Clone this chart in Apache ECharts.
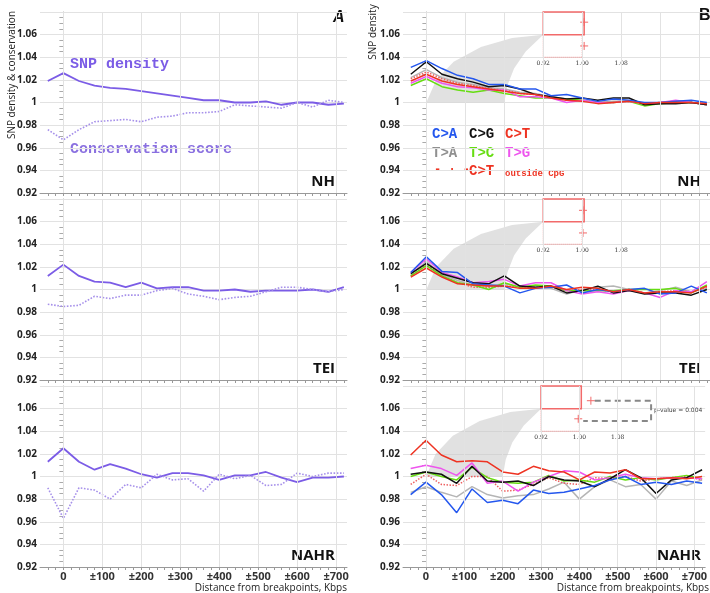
<!DOCTYPE html>
<html>
<head>
<meta charset="utf-8">
<script src="https://cdn.jsdelivr.net/npm/echarts@6/dist/echarts.min.js"></script>
<style>html,body{margin:0;padding:0;background:#fff}#chart{width:710px;height:593px}</style>
</head>
<body>
<div id="chart"></div>
<script>
// distance from breakpoints, Kbps
const dist = [-40, 0, 40, 80, 120, 160, 200, 240, 280, 320, 360, 400, 440, 480, 520, 560, 600, 640, 680, 720];
const xTicks = [0, 100, 200, 300, 400, 500, 600, 700];
const panels = ['NH', 'TEI', 'NAHR'];

// panel A: SNP density and conservation score
const snpNH = [1.019, 1.026, 1.019, 1.015, 1.013, 1.012, 1.010, 1.008, 1.006, 1.004, 1.002, 1.002, 1.000, 1.000, 1.001, 0.998, 1.000, 1.000, 0.998, 0.999];
const consNH = [0.976, 0.967, 0.976, 0.983, 0.984, 0.985, 0.983, 0.987, 0.988, 0.991, 0.991, 0.992, 0.998, 0.997, 0.996, 0.995, 1.000, 0.996, 1.002, 1.000];
const snpTEI = [1.012, 1.022, 1.012, 1.007, 1.006, 1.002, 1.006, 1.001, 1.002, 1.002, 0.999, 0.999, 1.000, 0.998, 0.999, 0.999, 0.999, 1.000, 0.998, 1.002];
const consTEI = [0.987, 0.985, 0.986, 0.994, 0.992, 0.995, 0.995, 0.999, 1.001, 0.996, 0.994, 0.991, 0.993, 0.994, 0.998, 1.002, 1.002, 1.000, 0.998, 1.000];
const snpNAHR = [1.013, 1.025, 1.013, 1.006, 1.011, 1.007, 1.002, 0.999, 1.003, 1.003, 1.001, 0.997, 1.001, 1.001, 1.004, 0.999, 0.995, 0.999, 0.999, 1.000];
const consNAHR = [0.990, 0.963, 0.990, 0.988, 0.980, 0.993, 0.990, 1.002, 0.997, 0.998, 0.987, 1.002, 0.998, 1.001, 0.992, 0.993, 1.003, 1.000, 1.003, 1.003];

// panel B: SNP density by mutation type
const mutTypes = ['C>A', 'C>G', 'C>T', 'T>A', 'T>C', 'T>G', 'C>T outside CpG'];
const mutColors = ['#2457ee', '#111111', '#ee3322', '#b5b5b5', '#66dd11', '#ee55ee', '#ee6060'];
const mutNH = [
  [1.031, 1.037, 1.030, 1.024, 1.021, 1.016, 1.016, 1.012, 1.012, 1.006, 1.007, 1.004, 1.001, 1.003, 1.002, 1.000, 1.000, 1.001, 1.002, 1.000],
  [1.025, 1.036, 1.025, 1.021, 1.018, 1.014, 1.015, 1.012, 1.007, 1.005, 1.003, 1.004, 1.002, 1.004, 1.004, 0.998, 0.999, 0.999, 1.000, 0.998],
  [1.019, 1.025, 1.019, 1.016, 1.014, 1.012, 1.010, 1.008, 1.007, 1.004, 1.002, 1.001, 0.999, 1.000, 1.001, 0.999, 1.000, 1.000, 1.000, 0.999],
  [1.022, 1.029, 1.022, 1.018, 1.016, 1.013, 1.012, 1.009, 1.008, 1.005, 1.003, 1.002, 1.000, 1.001, 1.001, 0.999, 1.000, 1.001, 1.000, 0.999],
  [1.015, 1.021, 1.014, 1.011, 1.009, 1.011, 1.008, 1.006, 1.004, 1.004, 1.003, 1.002, 1.000, 1.000, 1.001, 0.997, 0.999, 1.000, 1.000, 0.998],
  [1.017, 1.023, 1.017, 1.014, 1.013, 1.011, 1.011, 1.005, 1.005, 1.004, 1.000, 1.002, 1.000, 1.000, 1.001, 0.999, 1.000, 1.002, 1.000, 0.998],
  [1.021, 1.027, 1.021, 1.017, 1.015, 1.012, 1.011, 1.008, 1.007, 1.005, 1.002, 1.002, 1.000, 1.000, 1.001, 0.999, 1.000, 1.001, 1.000, 0.999]
];
const mutTEI = [
  [1.015, 1.029, 1.016, 1.015, 1.005, 1.004, 1.003, 0.997, 1.001, 1.002, 1.004, 0.997, 1.000, 0.998, 1.000, 1.001, 0.996, 0.997, 1.003, 0.997],
  [1.014, 1.023, 1.014, 1.010, 1.006, 1.005, 1.012, 1.003, 1.002, 1.003, 0.997, 0.999, 1.003, 0.997, 0.999, 0.996, 0.997, 0.997, 0.995, 1.000],
  [1.011, 1.019, 1.011, 1.005, 1.004, 1.003, 1.003, 1.001, 1.001, 1.003, 1.000, 1.002, 1.001, 0.998, 1.000, 0.997, 0.998, 0.998, 0.997, 1.003],
  [1.013, 1.025, 1.013, 1.008, 1.004, 1.003, 1.005, 1.002, 1.002, 1.001, 0.996, 1.000, 1.002, 1.003, 1.000, 0.997, 0.999, 1.002, 0.998, 1.001],
  [1.012, 1.021, 1.012, 1.006, 1.004, 1.000, 1.006, 1.002, 1.004, 1.003, 0.999, 0.999, 0.999, 0.999, 1.000, 1.000, 1.000, 1.001, 0.997, 1.004],
  [1.015, 1.027, 1.015, 1.011, 1.006, 1.007, 1.009, 1.003, 1.006, 1.006, 0.999, 0.996, 0.998, 0.996, 0.999, 0.997, 0.993, 0.999, 0.998, 1.007],
  [1.012, 1.022, 1.012, 1.006, 1.002, 1.002, 1.003, 1.002, 1.002, 1.002, 0.999, 1.000, 1.000, 0.998, 1.000, 0.997, 0.998, 0.999, 0.998, 1.002]
];
const mutNAHR = [
  [0.984, 0.995, 0.984, 0.968, 0.989, 0.977, 0.979, 0.976, 0.988, 0.985, 0.986, 0.989, 0.992, 0.997, 1.000, 0.993, 0.995, 0.993, 0.996, 0.994],
  [1.002, 1.004, 1.002, 0.994, 1.009, 0.996, 0.995, 0.996, 0.992, 1.000, 0.997, 0.996, 0.991, 0.998, 1.006, 0.999, 0.985, 0.997, 0.999, 1.006],
  [1.019, 1.032, 1.019, 1.013, 1.014, 1.013, 1.004, 1.002, 1.009, 1.005, 1.004, 0.997, 1.004, 1.003, 1.006, 0.998, 0.998, 0.999, 0.998, 1.000],
  [0.986, 0.991, 0.986, 0.982, 0.991, 0.984, 0.981, 0.983, 0.984, 0.989, 0.995, 0.980, 0.991, 0.997, 0.991, 0.993, 0.980, 0.996, 0.992, 0.997],
  [1.000, 1.004, 1.000, 0.997, 1.008, 0.999, 0.995, 0.994, 0.995, 1.001, 0.996, 0.997, 0.995, 1.000, 0.997, 0.999, 0.997, 0.999, 1.001, 0.998],
  [1.007, 1.010, 1.007, 1.001, 1.012, 0.994, 0.996, 0.987, 0.995, 1.000, 1.005, 1.004, 0.997, 0.999, 1.002, 0.999, 0.998, 0.999, 0.999, 0.998],
  [0.993, 1.002, 0.993, 0.992, 1.000, 1.000, 0.987, 0.988, 0.993, 0.999, 0.994, 0.993, 0.999, 0.998, 1.000, 0.996, 0.998, 0.999, 1.000, 0.997]
];

// grey zoom fan and inset box (data coordinates)
const fanPts = [[0, 1.0], [25, 1.02], [70, 1.036], [140, 1.049], [220, 1.057], [300, 1.06], [255, 1.045], [225, 1.03], [208, 1.015], [200, 1.0]];
const insetLabels = ['0.92', '1.00', '1.08'];
const insetLabelX = [300, 400, 500];
const insetCross = [[[405, 1.071], [405, 1.05]], [[402, 1.07], [402, 1.05]], [[430, 1.067], [397, 1.051]]];

const chart = echarts.init(document.getElementById('chart'));
const tops = [12, 199, 386];
const H = 181;
const grids = [], xAxes = [], yAxes = [], series = [];

function fmtY(v) {
  if (Math.abs(v - 1.08) < 1e-6) return '';
  if (Math.abs(v - 1) < 1e-6) return '1';
  return v.toFixed(2);
}

function pairs(arr) { return dist.map((d, i) => [d, arr[i]]); }

const minorX = [];
for (let v = -40; v <= 720; v += 20) minorX.push(v);

for (let c = 0; c < 2; c++) {
  for (let r = 0; r < 3; r++) {
    const gi = grids.length;
    grids.push(c === 0 ? { left: 40, width: 307, top: tops[r], height: H } : { left: 403, right: 0, top: tops[r], height: H });
    const bottom = r === 2;
    xAxes.push({
      type: 'value', gridIndex: gi, min: -60, max: 728,
      axisLine: { lineStyle: { color: '#999' } },
      axisTick: { show: true, customValues: minorX, length: 3, lineStyle: { color: '#999' } },
      axisLabel: { show: bottom, customValues: xTicks, formatter: v => v === 0 ? '0' : '±' + v, color: '#333', fontWeight: 'bold', fontSize: 11, fontFamily: 'Open Sans', margin: 4 },
      splitLine: { show: false }
    });
    yAxes.push({
      type: 'value', gridIndex: gi, min: 0.92, max: 1.08, interval: 0.02,
      axisLine: { show: true, lineStyle: { color: '#aaa' } },
      axisTick: { show: false },
      minorTick: { show: true, splitNumber: 4, length: 4, lineStyle: { color: '#aaa' } },
      axisLabel: { formatter: fmtY, color: '#222', fontSize: 10, fontWeight: 'bold', fontFamily: 'Open Sans', margin: 3 },
      splitLine: { lineStyle: { color: '#e2e2e2' } }
    });
    // vertical grid lines
    series.push({
      type: 'line', xAxisIndex: gi, yAxisIndex: gi, data: [], silent: true,
      markLine: { symbol: 'none', silent: true, label: { show: false }, lineStyle: { color: '#e2e2e2', type: 'solid', width: 1 }, data: xTicks.map(x => ({ xAxis: x })) }
    });
    if (c === 0) {
      const snp = [snpNH, snpTEI, snpNAHR][r];
      const cons = [consNH, consTEI, consNAHR][r];
      series.push({ type: 'line', name: 'SNP density', xAxisIndex: gi, yAxisIndex: gi, data: pairs(snp), symbol: 'none', lineStyle: { color: '#7b5ce6', width: 1.8 } });
      series.push({ type: 'line', name: 'Conservation score', xAxisIndex: gi, yAxisIndex: gi, data: pairs(cons), symbol: 'none', lineStyle: { color: '#a690ea', width: 1.6, type: 'dotted' } });
    } else {
      const crosses = insetCross[r];
      series.push({
        type: 'custom', xAxisIndex: gi, yAxisIndex: gi, silent: true, data: [0], z: 1,
        renderItem: (params, api) => {
          const pts = fanPts.map(p => api.coord(p));
          const a = api.coord([300, 1.08]), b = api.coord([405, 1.06]), d = api.coord([400, 1.04]);
          const kids = [
            { type: 'polygon', shape: { points: pts }, style: { fill: 'rgba(200,200,200,0.55)' } },
            { type: 'rect', shape: { x: a[0], y: a[1], width: b[0] - a[0], height: b[1] - a[1] }, style: { fill: 'none', stroke: '#f26a6a', lineWidth: 1.5 } },
            { type: 'polyline', shape: { points: [[a[0], b[1]], [a[0], d[1]], [d[0], d[1]], [d[0], b[1]]] }, style: { fill: 'none', stroke: '#f28a8a', lineWidth: 1, lineDash: [1, 1] } }
          ];
          crosses.forEach(cp => {
            const p = api.coord(cp);
            kids.push({ type: 'polyline', shape: { points: [[p[0] - 4, p[1]], [p[0] + 4, p[1]]] }, style: { stroke: '#f26a6a', lineWidth: 1 } });
            kids.push({ type: 'polyline', shape: { points: [[p[0], p[1] - 4], [p[0], p[1] + 4]] }, style: { stroke: '#f26a6a', lineWidth: 1 } });
          });
          insetLabels.forEach((t, k) => {
            const p = api.coord([insetLabelX[k], 1.04]);
            kids.push({ type: 'text', x: p[0], y: p[1] + 3, style: { text: t, fontSize: 6, fill: '#333', align: 'center', verticalAlign: 'top', fontFamily: 'DejaVu Serif' } });
          });
          if (r === 2) {
            const p1 = api.coord([440, 1.067]), p2 = api.coord([587, 1.067]), p3 = api.coord([587, 1.049]), p4 = api.coord([410, 1.049]);
            kids.push({ type: 'polyline', shape: { points: [p1, p2, p3, p4] }, style: { fill: 'none', stroke: '#888', lineWidth: 2, lineDash: [6, 4] } });
            kids.push({ type: 'text', x: p2[0] + 3, y: (p2[1] + p3[1]) / 2, style: { text: 'p-value = 0.004', fontSize: 6, fill: '#444', verticalAlign: 'middle', fontFamily: 'DejaVu Sans' } });
          }
          return { type: 'group', children: kids };
        }
      });
      const mut = [mutNH, mutTEI, mutNAHR][r];
      const order = [3, 6, 4, 5, 1, 0, 2];
      order.forEach(k => {
        series.push({
          type: 'line', name: mutTypes[k], xAxisIndex: gi, yAxisIndex: gi, data: pairs(mut[k]), symbol: 'none', z: 3,
          lineStyle: { color: mutColors[k], width: 1.5, type: k === 6 ? 'dotted' : 'solid' }
        });
      });
    }
  }
}

const graphic = [
  { type: 'text', left: 70, top: 57, style: { text: 'SNP density', font: 'bold 15px "Liberation Mono"', fill: '#7b5ce6' } },
  { type: 'text', left: 70, top: 142, style: { text: 'Conservation score', font: 'bold 15px "Liberation Mono"', fill: '#8a70e0' } },
  { type: 'text', left: 333, top: 10, style: { text: 'A', font: 'italic bold 16px "Liberation Sans"', fill: '#111' } },
  { type: 'text', left: 699, top: 8, style: { text: 'B', font: 'bold 16px "Liberation Sans"', fill: '#111' } },
  { type: 'text', x: 12, y: 75, rotation: Math.PI / 2, style: { text: 'SNP density & conservation', font: '10px "Open Sans"', fill: '#222', align: 'center', verticalAlign: 'middle' } },
  { type: 'text', x: 373, y: 32, rotation: Math.PI / 2, style: { text: 'SNP density', font: '10px "Open Sans"', fill: '#222', align: 'center', verticalAlign: 'middle' } },
  { type: 'text', left: 432, top: 127, style: { text: 'C>A', font: 'bold 14px "Liberation Mono"', fill: mutColors[0] } },
  { type: 'text', left: 469, top: 127, style: { text: 'C>G', font: 'bold 14px "Liberation Mono"', fill: mutColors[1] } },
  { type: 'text', left: 505, top: 127, style: { text: 'C>T', font: 'bold 14px "Liberation Mono"', fill: mutColors[2] } },
  { type: 'text', left: 432, top: 146, style: { text: 'T>A', font: 'bold 14px "Liberation Mono"', fill: '#909090' } },
  { type: 'text', left: 469, top: 146, style: { text: 'T>C', font: 'bold 14px "Liberation Mono"', fill: mutColors[4] } },
  { type: 'text', left: 505, top: 146, style: { text: 'T>G', font: 'bold 14px "Liberation Mono"', fill: mutColors[5] } },
  { type: 'text', left: 434, top: 164, style: { text: '- · -', font: 'bold 12px "Liberation Mono"', fill: mutColors[2] } },
  { type: 'text', left: 469, top: 164, style: { text: 'C>T', font: 'bold 14px "Liberation Mono"', fill: mutColors[2] } },
  { type: 'text', left: 505, top: 169, style: { text: 'outside CpG', font: 'bold 9px "Liberation Mono"', fill: mutColors[2] } },
  { type: 'text', x: 347, y: 588, style: { text: 'Distance from breakpoints, Kbps', font: '10px "Open Sans"', fill: '#222', align: 'right', verticalAlign: 'middle' } },
  { type: 'text', x: 709, y: 588, style: { text: 'Distance from breakpoints, Kbps', font: '10px "Open Sans"', fill: '#222', align: 'right', verticalAlign: 'middle' } }
];
panels.forEach((p, r) => {
  graphic.push({ type: 'text', x: 335, y: tops[r] + H - 11, style: { text: p, font: 'bold 15px "Open Sans"', fill: '#111', align: 'right', verticalAlign: 'middle' } });
  graphic.push({ type: 'text', x: 701, y: tops[r] + H - 11, style: { text: p, font: 'bold 15px "Open Sans"', fill: '#111', align: 'right', verticalAlign: 'middle' } });
});

chart.setOption({
  animation: false,
  grid: grids, xAxis: xAxes, yAxis: yAxes, series: series, graphic: graphic
});
</script>
</body>
</html>
